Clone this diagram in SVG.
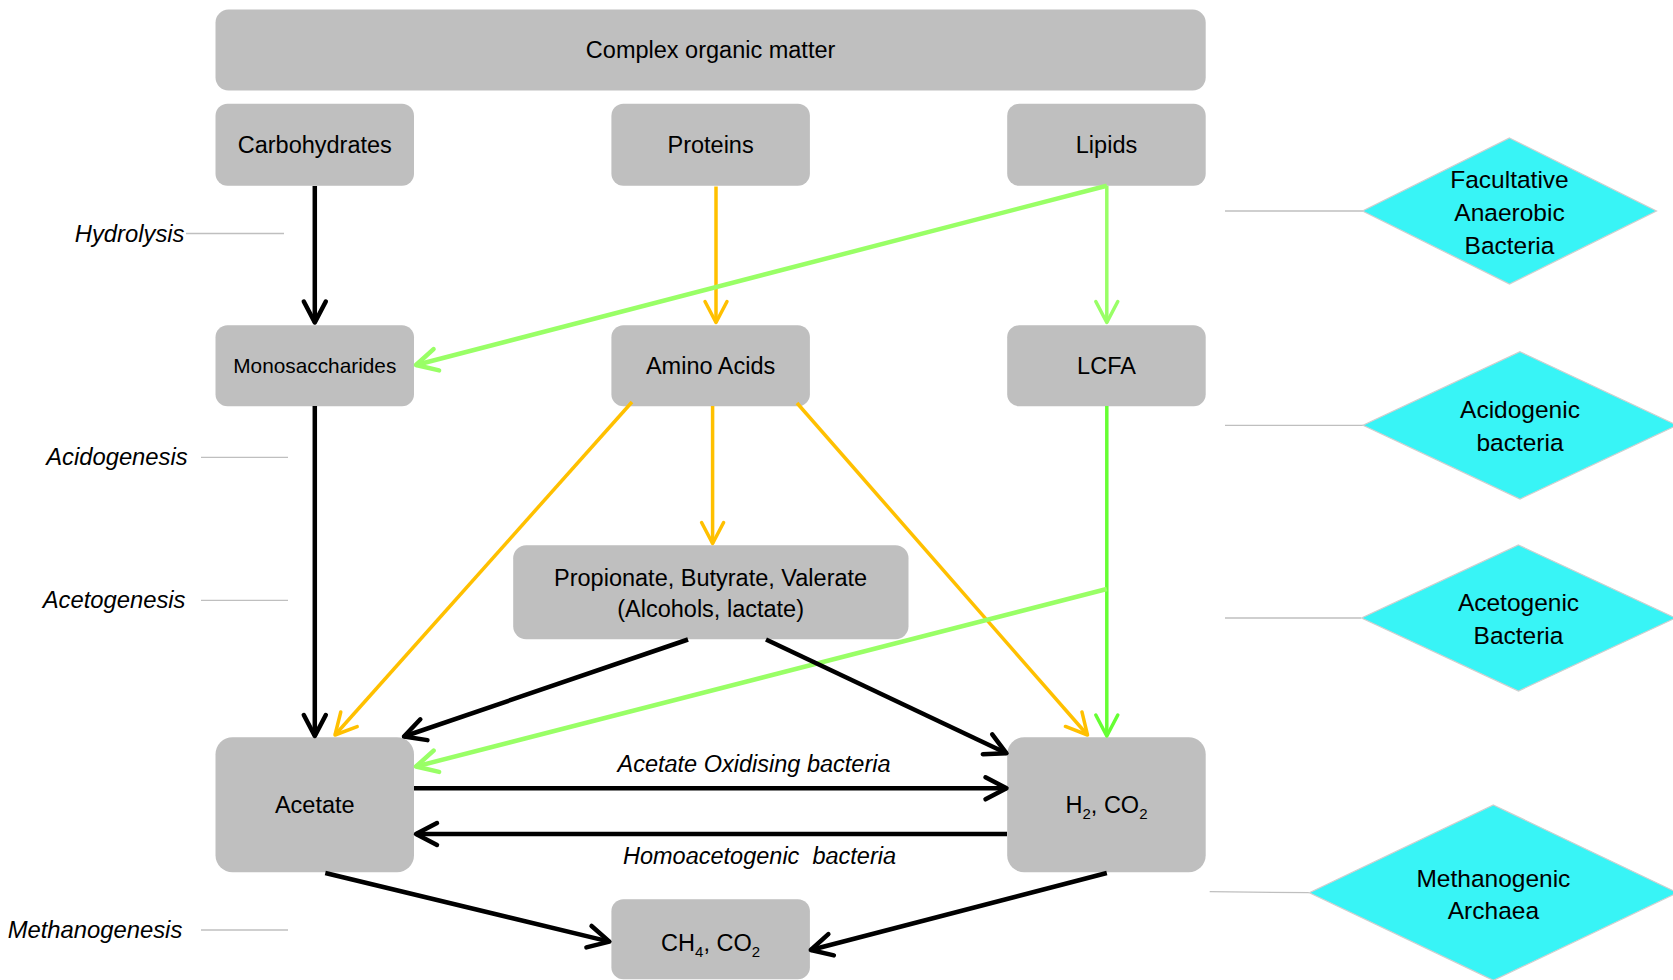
<svg xmlns="http://www.w3.org/2000/svg" width="1673" height="980" viewBox="0 0 1673 980">
<style>
text{font-family:"Liberation Sans",Arial,sans-serif;fill:#000;font-size:23.5px}
.box{fill:#BFBFBF}
.c{text-anchor:middle}
.it{font-style:italic}
.dt{font-size:24.5px}
.sl{font-size:23.8px}
.dia{fill:#38F4F6;stroke:#CFCFCF;stroke-width:1.2}
.gl{stroke:#BFBFBF;stroke-width:1.3;fill:none}
.k{stroke:#000;stroke-width:4.5;fill:none}
.o{stroke:#FFC000;stroke-width:3.5;fill:none}
.g{stroke:#99FF66;stroke-width:4.5;fill:none}
.g2{stroke:#99FF66;stroke-width:3.5;fill:none}
.bg{stroke:#66FF33;stroke-width:3.5;fill:none}
</style>
<defs>
<marker id="mk" markerUnits="userSpaceOnUse" viewBox="-30 -16 34 32" markerWidth="34" markerHeight="32" refX="0" refY="0" orient="auto">
<path d="M-21,-11 L0,0 L-21,11" fill="none" stroke="#000" stroke-width="4.5" stroke-linecap="round" stroke-linejoin="round"/>
</marker>
<marker id="mo" markerUnits="userSpaceOnUse" viewBox="-30 -16 34 32" markerWidth="34" markerHeight="32" refX="0" refY="0" orient="auto">
<path d="M-21,-11 L0,0 L-21,11" fill="none" stroke="#FFC000" stroke-width="3.5" stroke-linecap="round" stroke-linejoin="round"/>
</marker>
<marker id="mg" markerUnits="userSpaceOnUse" viewBox="-30 -16 34 32" markerWidth="34" markerHeight="32" refX="0" refY="0" orient="auto">
<path d="M-21,-11 L0,0 L-21,11" fill="none" stroke="#99FF66" stroke-width="4.5" stroke-linecap="round" stroke-linejoin="round"/>
</marker>
<marker id="mg2" markerUnits="userSpaceOnUse" viewBox="-30 -16 34 32" markerWidth="34" markerHeight="32" refX="0" refY="0" orient="auto">
<path d="M-21,-11 L0,0 L-21,11" fill="none" stroke="#99FF66" stroke-width="3.5" stroke-linecap="round" stroke-linejoin="round"/>
</marker>
<marker id="mbg" markerUnits="userSpaceOnUse" viewBox="-30 -16 34 32" markerWidth="34" markerHeight="32" refX="0" refY="0" orient="auto">
<path d="M-21,-11 L0,0 L-21,11" fill="none" stroke="#66FF33" stroke-width="3.5" stroke-linecap="round" stroke-linejoin="round"/>
</marker>
</defs>
<rect width="1673" height="980" fill="#fff"/>

<g id="stage-lines">
<line class="gl" x1="186" y1="233.5" x2="284" y2="233.5"/>
<line class="gl" x1="201" y1="457.3" x2="288" y2="457.3"/>
<line class="gl" x1="201" y1="600.3" x2="288" y2="600.3"/>
<line class="gl" x1="201" y1="930" x2="288" y2="930"/>
<line class="gl" x1="1225" y1="211" x2="1363" y2="211"/>
<line class="gl" x1="1225" y1="425.3" x2="1363" y2="425.3"/>
<line class="gl" x1="1225" y1="618" x2="1361" y2="618"/>
<line class="gl" x1="1209.7" y1="891.7" x2="1309.4" y2="892.7"/>
</g>

<g id="stage-labels">
<text class="it sl" x="184.5" y="241.5" text-anchor="end">Hydrolysis</text>
<text class="it sl" x="187.7" y="465" text-anchor="end">Acidogenesis</text>
<text class="it sl" x="185.5" y="607.5" text-anchor="end">Acetogenesis</text>
<text class="it sl" x="182.3" y="937.5" text-anchor="end">Methanogenesis</text>
</g>

<g id="n-complex"><rect class="box" x="215.5" y="9.6" width="990.2" height="81" rx="13"/><text class="c" x="710.6" y="58">Complex organic matter</text></g>
<g id="n-carbohydrates"><rect class="box" x="215.5" y="103.8" width="198.5" height="82" rx="12"/><text class="c" x="314.8" y="153">Carbohydrates</text></g>
<g id="n-proteins"><rect class="box" x="611.4" y="103.8" width="198.5" height="82" rx="12"/><text class="c" x="710.6" y="153">Proteins</text></g>
<g id="n-lipids"><rect class="box" x="1007.2" y="103.8" width="198.5" height="82" rx="12"/><text class="c" x="1106.5" y="153">Lipids</text></g>
<g id="n-monosaccharides"><rect class="box" x="215.5" y="325.3" width="198.5" height="81" rx="12"/><text class="c" x="314.8" y="372.5" style="font-size:20.8px">Monosaccharides</text></g>
<g id="n-aminoacids"><rect class="box" x="611.4" y="325.3" width="198.5" height="81" rx="12"/><text class="c" x="710.6" y="374">Amino Acids</text></g>
<g id="n-lcfa"><rect class="box" x="1007.2" y="325.3" width="198.5" height="81" rx="12"/><text class="c" x="1106.5" y="374">LCFA</text></g>
<g id="n-propionate"><rect class="box" x="513.2" y="545.3" width="395.3" height="94" rx="13"/><text class="c" x="710.6" y="586">Propionate, Butyrate, Valerate</text><text class="c" x="710.6" y="616.5">(Alcohols, lactate)</text></g>
<g id="n-acetate"><rect class="box" x="215.5" y="737.3" width="198.5" height="135" rx="17"/><text class="c" x="314.8" y="813">Acetate</text></g>
<g id="n-h2co2"><rect class="box" x="1007.2" y="737.3" width="198.5" height="135" rx="17"/><text class="c" x="1106.5" y="813">H<tspan style="font-size:15px" dy="6">2</tspan><tspan dy="-6">, CO</tspan><tspan style="font-size:15px" dy="6">2</tspan></text></g>
<g id="n-ch4co2"><rect class="box" x="611.4" y="899.3" width="198.5" height="80" rx="12"/><text class="c" x="710.6" y="951">CH<tspan style="font-size:15px" dy="6">4</tspan><tspan dy="-6">, CO</tspan><tspan style="font-size:15px" dy="6">2</tspan></text></g>

<g id="d-facultative"><polygon class="dia" points="1509.5,138 1656.5,211 1509.5,284 1362.5,211"/><text class="c dt" x="1509.5" y="188">Facultative</text><text class="c dt" x="1509.5" y="221">Anaerobic</text><text class="c dt" x="1509.5" y="253.5">Bacteria</text></g>
<g id="d-acidogenic"><polygon class="dia" points="1520,351.7 1677,425.3 1520,499 1363,425.3"/><text class="c dt" x="1520" y="418">Acidogenic</text><text class="c dt" x="1520" y="451">bacteria</text></g>
<g id="d-acetogenic"><polygon class="dia" points="1518.5,545 1675.5,618 1518.5,691 1361.5,618"/><text class="c dt" x="1518.5" y="611">Acetogenic</text><text class="c dt" x="1518.5" y="644">Bacteria</text></g>
<g id="d-methanogenic"><polygon class="dia" points="1493.4,805 1677.4,892.7 1493.4,980.4 1309.4,892.7"/><text class="c dt" x="1493.4" y="886.5">Methanogenic</text><text class="c dt" x="1493.4" y="919">Archaea</text></g>

<g id="connectors">
<line class="k" x1="314.8" y1="186" x2="314.8" y2="322.5" marker-end="url(#mk)"/>
<line class="o" x1="716" y1="186.5" x2="716" y2="322.5" marker-end="url(#mo)"/>
<line class="g" x1="1106.8" y1="185.7" x2="416" y2="365" marker-end="url(#mg)"/>
<line class="g2" x1="1106.8" y1="185.7" x2="1106.8" y2="322.5" marker-end="url(#mg2)"/>
<line class="k" x1="314.8" y1="406" x2="314.8" y2="736" marker-end="url(#mk)"/>
<line class="o" x1="632" y1="402" x2="335" y2="735" marker-end="url(#mo)"/>
<line class="o" x1="712.6" y1="406" x2="712.6" y2="543.5" marker-end="url(#mo)"/>
<line class="o" x1="797" y1="403" x2="1087.5" y2="735" marker-end="url(#mo)"/>
<line class="bg" x1="1106.8" y1="406" x2="1106.8" y2="736" marker-end="url(#mbg)"/>
<line class="g" x1="1106.8" y1="589" x2="416" y2="766.5" marker-end="url(#mg)"/>
<line class="k" x1="688" y1="639.5" x2="404" y2="736.5" marker-end="url(#mk)"/>
<line class="k" x1="766" y1="639.5" x2="1006.5" y2="753.3" marker-end="url(#mk)"/>
<line class="k" x1="414" y1="788.3" x2="1006.5" y2="788.3" marker-end="url(#mk)"/>
<line class="k" x1="1007" y1="834" x2="416" y2="834" marker-end="url(#mk)"/>
<line class="k" x1="325.3" y1="873" x2="609.4" y2="941.6" marker-end="url(#mk)"/>
<line class="k" x1="1106.8" y1="873" x2="810.8" y2="950" marker-end="url(#mk)"/>
<text class="it" x="617.5" y="772">Acetate Oxidising bacteria</text>
<text class="it" x="623" y="864" style="white-space:pre">Homoacetogenic  bacteria</text>
</g>
</svg>
